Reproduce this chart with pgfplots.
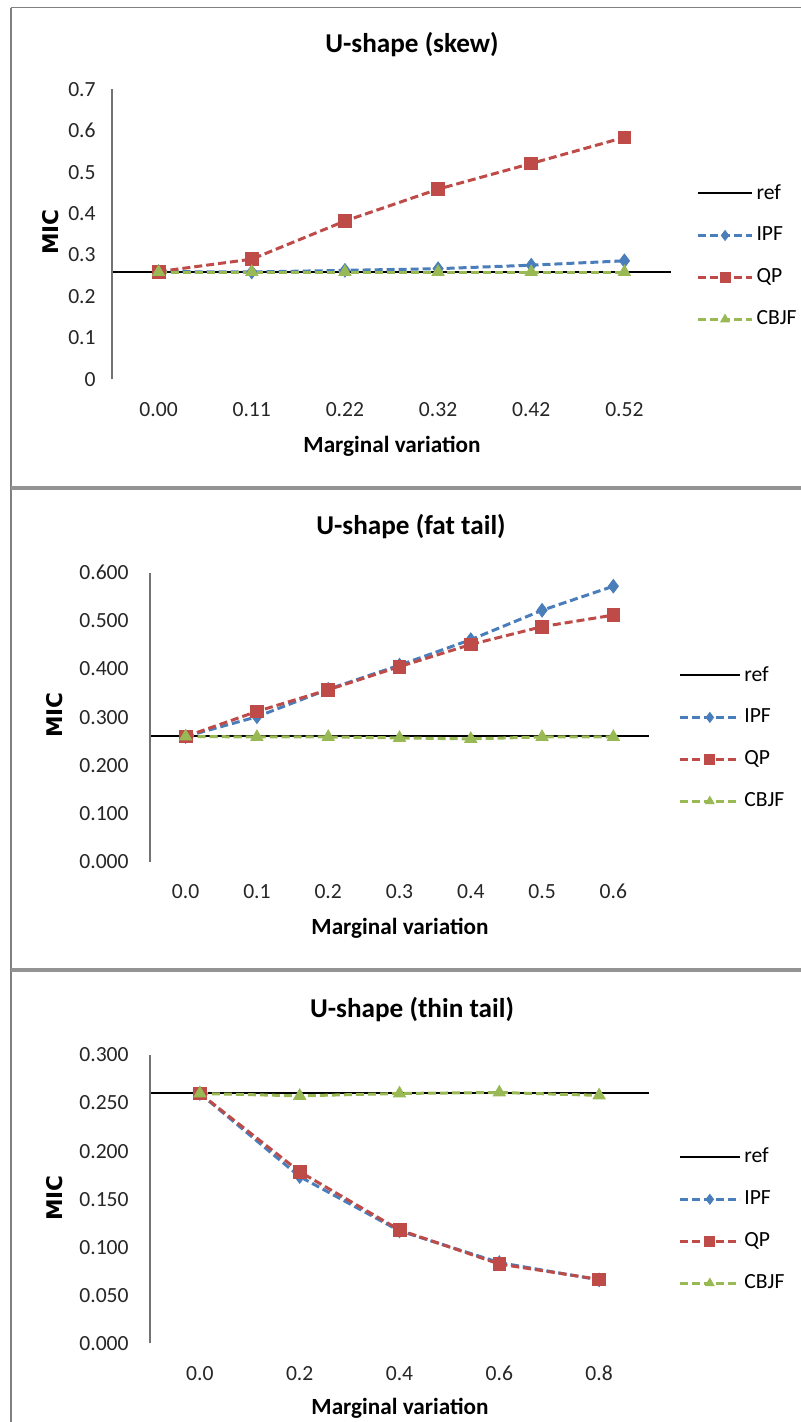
\documentclass[border=0pt]{standalone}
\usepackage{fontspec}
\setmainfont{Carlito}
\newfontfamily\micfont{DejaVu Sans}
\usepackage{pgfplots}
\pgfplotsset{compat=1.18}

\definecolor{ipf}{RGB}{74,126,187}
\definecolor{qp}{RGB}{190,75,72}
\definecolor{cbjf}{RGB}{152,185,84}
\definecolor{frame}{RGB}{128,128,128}

\newcommand{\tickfont}{\fontsize{10.8bp}{12bp}\selectfont}
\newcommand{\legfont}{\fontsize{10.8bp}{12bp}\selectfont}
\newcommand{\titlefont}{\bfseries\fontsize{13.6bp}{15bp}\selectfont}
\newcommand{\labfont}{\bfseries\fontsize{11.6bp}{13bp}\selectfont}
\newcommand{\micf}{\micfont\bfseries\fontsize{10.8bp}{12bp}\selectfont}

\pgfplotsset{
  panel/.style={
    scale only axis,
    axis line style={draw=none},
    tick style={draw=none},
    clip=false,
    ymin=0,
    ticklabel style={font=\tickfont, text=black!85},
    yticklabel style={anchor=east, inner sep=0pt, xshift=-8bp},
    xticklabel style={anchor=center, inner sep=0pt, yshift=-15bp},
    legend cell align=left,
    legend style={draw=none, fill=none, font=\legfont, anchor=west,
      inner sep=0pt, row sep=9.5bp, nodes={inner sep=1.5bp}},
    extra description/.code={\draw[frame!110, line width=0.6bp] (axis description cs:0,0) -- (axis description cs:0,1);},
  },
  legshort/.style={legend image code/.code={\draw[mark repeat=2,mark phase=2,##1,mark size=2.5bp] plot coordinates {(0bp,0bp) (13.5bp,0bp) (27bp,0bp)};}},
  leglong/.style={legend image code/.code={\draw[mark repeat=2,mark phase=2,##1,mark size=2.5bp] plot coordinates {(0bp,0bp) (15bp,0bp) (30bp,0bp)};}},
  refs/.style={black, line width=1bp, mark=none},
  dsh/.style={line width=1.5bp, dash pattern=on 4bp off 2bp},
  ipfs/.style={dsh, ipf, mark=diamond*, mark size=3.4bp, mark options={solid, line width=0.4bp, fill=ipf, draw=ipf}},
  qps/.style={dsh, qp, mark=square*, mark size=3.2bp, mark options={solid, line width=0.4bp, fill=qp, draw=qp}},
  cbjfs/.style={dsh, cbjf, mark=triangle*, mark size=3.5bp, mark options={solid, line width=0.4bp, fill=cbjf, draw=cbjf}},
}

\begin{document}
\begin{tikzpicture}
\useasboundingbox (0bp,0bp) rectangle (400.5bp,-711bp);
% panel frames
\draw[frame, line width=0.7bp] (5.5bp,-3.75bp) -- (420bp,-3.75bp);
\draw[frame, line width=0.7bp] (5.5bp,-3.75bp) -- (5.5bp,-730bp);
\draw[frame!85, line width=2bp] (5.5bp,-244bp) -- (420bp,-244bp);
\draw[frame!85, line width=1.6bp] (5.5bp,-485bp) -- (420bp,-485bp);

% ---------------- Panel 1 ----------------
\begin{axis}[panel, legshort, at={(56bp,-189.65bp)}, anchor=south west,
  width=279.5bp, height=145bp,
  xmin=-0.5, xmax=5.5, ymax=0.7,
  xtick={0,1,2,3,4,5}, xticklabels={0.00,0.11,0.22,0.32,0.42,0.52},
  ytick={0,0.1,0.2,0.3,0.4,0.5,0.6,0.7},
  yticklabels={0,0.1,0.2,0.3,0.4,0.5,0.6,0.7},
  legend style={at={(axis description cs:1.045,0.425)}},
]
\addplot[refs] coordinates {(-0.5,0.26) (5.5,0.26)};
\addlegendentry{ref}
\addplot[ipfs] coordinates {(0,0.260) (1,0.259) (2,0.263) (3,0.267) (4,0.2755) (5,0.286)};
\addlegendentry{IPF}
\addplot[qps] coordinates {(0,0.260) (1,0.290) (2,0.382) (3,0.459) (4,0.521) (5,0.584)};
\addlegendentry{QP}
\addplot[cbjfs] coordinates {(0,0.259) (1,0.259) (2,0.259) (3,0.259) (4,0.259) (5,0.259)};
\addlegendentry{CBJF}
\end{axis}
\node[font=\titlefont] at (206bp,-22.5bp) {U-shape (skew)};
\node[font=\labfont] at (196bp,-223bp) {Marginal variation};
\node[font=\micf, rotate=90] at (25.5bp,-116bp) {MIC};

% ---------------- Panel 2 ----------------
\begin{axis}[panel, leglong, at={(75bp,-430.85bp)}, anchor=south west,
  width=249.5bp, height=144.5bp,
  xmin=-0.5, xmax=6.5, ymax=0.6,
  xtick={0,1,2,3,4,5,6}, xticklabels={0.0,0.1,0.2,0.3,0.4,0.5,0.6},
  ytick={0,0.1,0.2,0.3,0.4,0.5,0.6},
  yticklabels={0.000,0.100,0.200,0.300,0.400,0.500,0.600},
  yticklabel style={xshift=-2.5bp},
  legend style={at={(axis description cs:1.058,0.428)}},
]
\addplot[refs] coordinates {(-0.5,0.26) (6.5,0.26)};
\addlegendentry{ref}
\addplot[ipfs] coordinates {(0,0.260) (1,0.301) (2,0.358) (3,0.408) (4,0.461) (5,0.522) (6,0.572)};
\addlegendentry{IPF}
\addplot[qps] coordinates {(0,0.260) (1,0.312) (2,0.357) (3,0.405) (4,0.451) (5,0.488) (6,0.512)};
\addlegendentry{QP}
\addplot[cbjfs] coordinates {(0,0.260) (1,0.259) (2,0.259) (3,0.257) (4,0.255) (5,0.259) (6,0.259)};
\addlegendentry{CBJF}
\end{axis}
\node[font=\titlefont] at (205.5bp,-263.5bp) {U-shape (fat tail)};
\node[font=\labfont] at (200bp,-464bp) {Marginal variation};
\node[font=\micf, rotate=90] at (27.5bp,-357.5bp) {MIC};

% ---------------- Panel 3 ----------------
\begin{axis}[panel, leglong, at={(75bp,-671.65bp)}, anchor=south west,
  width=249.5bp, height=144.15bp,
  xmin=-0.5, xmax=4.5, ymax=0.3,
  xtick={0,1,2,3,4}, xticklabels={0.0,0.2,0.4,0.6,0.8},
  ytick={0,0.05,0.1,0.15,0.2,0.25,0.3},
  yticklabels={0.000,0.050,0.100,0.150,0.200,0.250,0.300},
  yticklabel style={xshift=-2.5bp},
  legend style={at={(axis description cs:1.058,0.428)}},
]
\addplot[refs] coordinates {(-0.5,0.26) (4.5,0.26)};
\addlegendentry{ref}
\addplot[ipfs] coordinates {(0,0.260) (1,0.1735) (2,0.117) (3,0.084) (4,0.066)};
\addlegendentry{IPF}
\addplot[qps] coordinates {(0,0.260) (1,0.1785) (2,0.118) (3,0.0825) (4,0.0665)};
\addlegendentry{QP}
\addplot[cbjfs] coordinates {(0,0.260) (1,0.2575) (2,0.260) (3,0.261) (4,0.258)};
\addlegendentry{CBJF}
\end{axis}
\node[font=\titlefont] at (206bp,-505bp) {U-shape (thin tail)};
\node[font=\labfont] at (200bp,-704bp) {Marginal variation};
\node[font=\micf, rotate=90] at (27.5bp,-599bp) {MIC};
\end{tikzpicture}
\end{document}
